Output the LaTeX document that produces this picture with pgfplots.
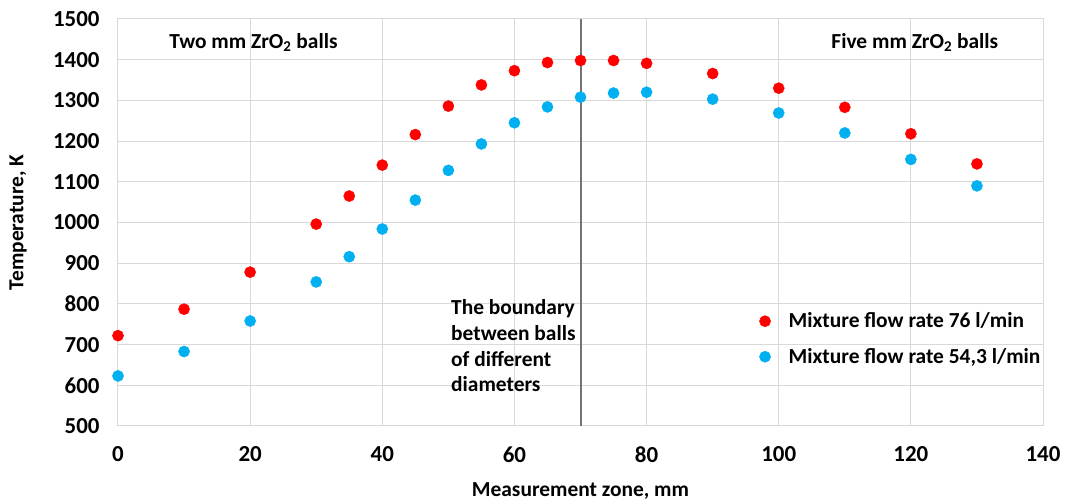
\documentclass[border=0pt]{standalone}
\usepackage{fontspec}
\setmainfont{Carlito}
\usepackage{pgfplots}
\pgfplotsset{compat=1.18}
\definecolor{cred}{HTML}{FF0000}
\definecolor{cblue}{HTML}{00B0F0}
\definecolor{gridc}{HTML}{D9D9D9}
\definecolor{vline}{HTML}{737373}
\begin{document}
\begin{tikzpicture}[x=1bp,y=1bp]
\path[use as bounding box] (-118,-74) rectangle (947,426);
\begin{axis}[
  at={(0,0)}, anchor=south west,
  scale only axis, width=925bp, height=407bp,
  xmin=0, xmax=140, ymin=500, ymax=1500,
  xtick={0,20,...,140}, ytick={500,600,...,1500},
  grid=major, major grid style={gridc, line width=1bp},
  axis line style={gridc, line width=1bp},
  tick style={draw=none},
  ticklabel style={font=\bfseries\fontsize{23}{28}\selectfont},
  /pgf/number format/assume math mode=true,
  /pgf/number format/1000 sep={},
  xticklabel style={yshift=-17bp},
  yticklabel style={xshift=-15bp},
  xlabel={Measurement zone, mm},
  ylabel={Temperature, K},
  label style={font=\bfseries\fontsize{21.5}{26}\selectfont},
  xlabel style={at={(axis description cs:0.5,-0.16)}, anchor=center},
  ylabel style={at={(axis description cs:-0.108,0.5)}, anchor=center},
  legend style={at={(0.69,0.288)}, anchor=north west, draw=none, fill=none,
    font=\bfseries\fontsize{21.5}{26}\selectfont, row sep=15bp, column sep=16bp},
  legend cell align=left,
  clip=false,
]
\addplot[forget plot, vline, line width=2bp] coordinates {(70,500) (70,1500)};
\addplot[only marks, mark=*, mark size=5.6bp, color=cred, mark options={draw=cred, fill=cred}] coordinates {
(0,722) (10,787) (20,878) (30,996) (35,1065) (40,1141) (45,1216) (50,1286) (55,1338) (60,1373) (65,1393) (70,1398) (75,1398) (80,1391) (90,1366) (100,1330) (110,1283) (120,1218) (130,1144)};
\addlegendentry{Mixture flow rate 76 l/min}
\addplot[only marks, mark=*, mark size=5.6bp, color=cblue, mark options={draw=cblue, fill=cblue}] coordinates {
(0,623) (10,683) (20,758) (30,854) (35,916) (40,984) (45,1055) (50,1128) (55,1193) (60,1245) (65,1284) (70,1308) (75,1318) (80,1320) (90,1303) (100,1269) (110,1220) (120,1155) (130,1090)};
\addlegendentry{Mixture flow rate 54,3 l/min}
\node[font=\bfseries\fontsize{21.5}{26}\selectfont, anchor=base] at (axis cs:20.5,1428) {Two mm ZrO\textsubscript{2} balls};
\node[font=\bfseries\fontsize{21.5}{26}\selectfont, anchor=base] at (axis cs:120.6,1428) {Five mm ZrO\textsubscript{2} balls};
\node[font=\bfseries\fontsize{21.5}{25.8}\selectfont, align=left, anchor=north west, inner sep=0pt] at (axis cs:50.4,811) {The boundary\\between balls\\of different\\diameters};
\end{axis}
\end{tikzpicture}
\end{document}
